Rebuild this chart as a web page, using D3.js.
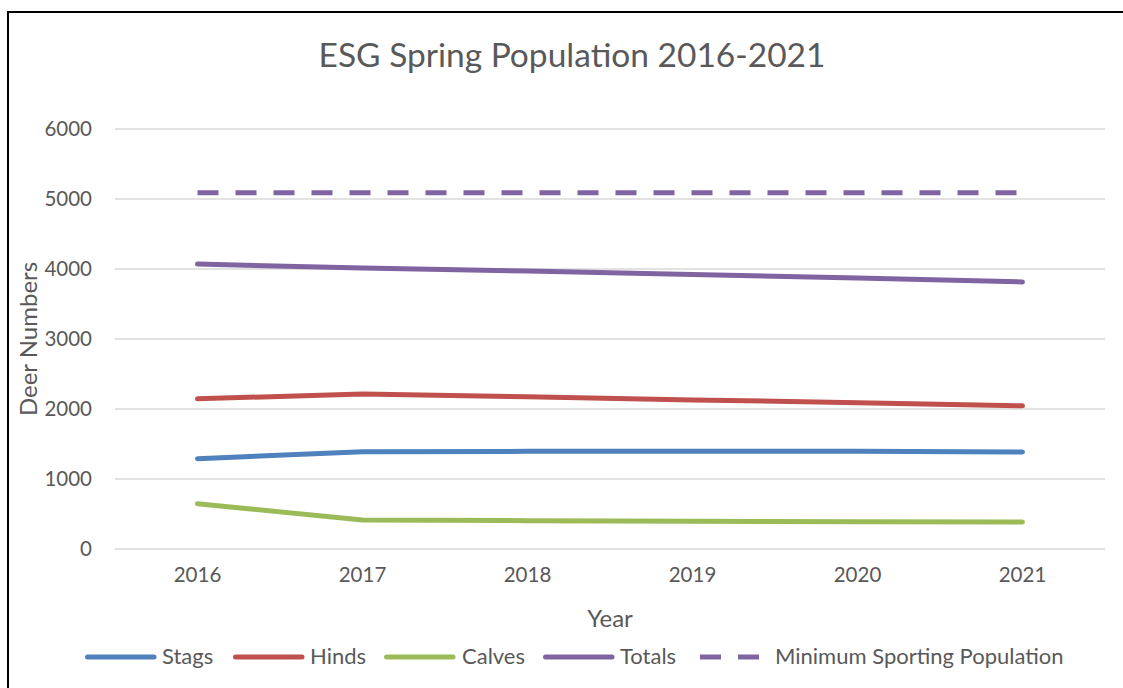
<!DOCTYPE html>
<meta charset="utf-8">
<style>
body { margin: 0; background: #fff; }
text { font-family: Lato, "Open Sans", sans-serif; fill: #595959; }
</style>
<svg width="1123" height="688"></svg>
<script src="https://d3js.org/d3.v7.min.js"></script>
<script>

var years = ["2016", "2017", "2018", "2019", "2020", "2021"];
var stags = [1290, 1390, 1395, 1395, 1395, 1385];
var hinds = [2145, 2215, 2175, 2130, 2090, 2045];
var calves = [645, 415, 405, 395, 390, 385];
var totals = [4070, 4015, 3970, 3920, 3870, 3815];
var minSporting = [5090, 5090, 5090, 5090, 5090, 5090];
var yTicks = [0, 1000, 2000, 3000, 4000, 5000, 6000];

var series = [
  { name: "Stags", values: stags, color: "#4F81BD", dash: null },
  { name: "Hinds", values: hinds, color: "#C0504D", dash: null },
  { name: "Calves", values: calves, color: "#9BBB59", dash: null },
  { name: "Totals", values: totals, color: "#8064A2", dash: null },
  { name: "Minimum Sporting Population", values: minSporting, color: "#8064A2", dash: "21,17" }
];

var svg = d3.select("svg");

// frame (only top and left edges are in view)
svg.append("path")
    .attr("d", "M8,1123 V12 H1123")
    .attr("fill", "none")
    .attr("stroke", "#000")
    .attr("stroke-width", 2);

var x = d3.scaleBand().domain(years).range([115, 1105]);
var y = d3.scaleLinear().domain([0, 6000]).range([549, 129]);

// gridlines
svg.append("g")
  .selectAll("line")
  .data(yTicks)
  .enter().append("line")
    .attr("x1", 115).attr("x2", 1105)
    .attr("y1", function(d) { return y(d); })
    .attr("y2", function(d) { return y(d); })
    .attr("stroke", "#d9d9d9")
    .attr("stroke-width", 1.5);

// y axis labels
var yAxis = svg.append("g")
    .attr("transform", "translate(92,0)")
    .call(d3.axisLeft(y).tickValues(yTicks).tickFormat(d3.format("d")).tickSize(0).tickPadding(0));
yAxis.select(".domain").remove();
yAxis.selectAll("text")
    .attr("font-size", 20.5)
    .attr("fill", "#595959")
    .attr("font-family", "Lato, 'Open Sans', sans-serif");

// x axis labels
var xAxis = svg.append("g")
    .attr("transform", "translate(0,567)")
    .call(d3.axisBottom(x).tickSize(0).tickPadding(0));
xAxis.select(".domain").remove();
xAxis.selectAll("text")
    .attr("font-size", 20.5)
    .attr("fill", "#595959")
    .attr("font-family", "Lato, 'Open Sans', sans-serif");

var line = d3.line()
    .x(function(d, i) { return x(years[i]) + x.bandwidth() / 2; })
    .y(function(d) { return y(d); });

svg.append("g")
  .selectAll("path")
  .data(series)
  .enter().append("path")
    .attr("d", function(d) { return line(d.values); })
    .attr("fill", "none")
    .attr("stroke", function(d) { return d.color; })
    .attr("stroke-width", 5)
    .attr("stroke-linecap", function(d) { return d.dash ? "butt" : "round"; })
    .attr("stroke-linejoin", "round")
    .attr("stroke-dasharray", function(d) { return d.dash; });

// titles
svg.append("text")
    .attr("x", 572).attr("y", 67)
    .attr("text-anchor", "middle")
    .attr("font-size", 33.5)
    .text("ESG Spring Population 2016-2021");

svg.append("text")
    .attr("x", 610).attr("y", 627)
    .attr("text-anchor", "middle")
    .attr("font-size", 24)
    .text("Year");

svg.append("text")
    .attr("transform", "translate(37,339) rotate(-90)")
    .attr("text-anchor", "middle")
    .attr("font-size", 24)
    .text("Deer Numbers");

// legend
var legendX = [85, 233, 384, 543, 700];
var legendTextX = [162, 310, 462, 620, 775];
var legend = svg.append("g")
  .selectAll("g")
  .data(series)
  .enter().append("g");

legend.append("line")
    .attr("x1", function(d, i) { return d.dash ? legendX[i] : legendX[i] + 2.5; })
    .attr("x2", function(d, i) { return d.dash ? legendX[i] + 59 : legendX[i] + 69; })
    .attr("y1", 657).attr("y2", 657)
    .attr("stroke", function(d) { return d.color; })
    .attr("stroke-width", 5)
    .attr("stroke-linecap", function(d) { return d.dash ? "butt" : "round"; })
    .attr("stroke-dasharray", function(d) { return d.dash; });

legend.append("text")
    .attr("x", function(d, i) { return legendTextX[i]; })
    .attr("y", 664)
    .attr("font-size", 22)
    .text(function(d) { return d.name; });

</script>
